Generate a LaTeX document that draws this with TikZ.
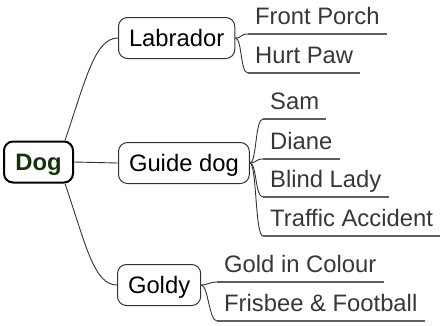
\documentclass[tikz,border=0pt]{standalone}
\usepackage{fontspec}
\setmainfont{Liberation Sans}
\definecolor{dogtxt}{RGB}{18,52,8}
\definecolor{leaftxt}{RGB}{55,55,55}
\definecolor{uline}{RGB}{95,95,95}
\definecolor{conn}{RGB}{50,50,50}
\begin{document}
\begin{tikzpicture}[x=1pt,y=-1pt,
  txt/.style={font=\fontsize{23.8}{28}\selectfont, text height=17pt, text depth=0pt},
  rootbox/.style={txt, font=\fontsize{23.8}{28}\selectfont\bfseries, text=dogtxt, draw=black, line width=2pt, rounded corners=9pt, minimum width=69pt, minimum height=41pt, inner sep=0pt},
  midbox/.style={txt, text=black, draw=conn, line width=1pt, rounded corners=9pt, minimum height=41pt, inner xsep=10.5pt, inner ysep=0pt, anchor=west},
  leaf/.style={txt, text=leaftxt, inner xsep=7pt, inner ysep=9pt, anchor=south west},
  conline/.style={draw=conn, line width=0.9pt},
  ulinestyle/.style={draw=uline, line width=1.2pt}
]
\useasboundingbox (0,0) rectangle (440,325);
\node[rootbox] (dog) at (38.5,162) {Dog};
\node[midbox] (lab) at (118,38) {Labrador};
\node[midbox] (guide) at (118,163) {Guide dog};
\node[midbox] (goldy) at (117,285) {Goldy};

\node[leaf] (fp) at (248,34) {Front Porch};
\node[leaf] (hp) at (248,73) {Hurt Paw};
\node[leaf] (sam) at (263,119) {Sam};
\node[leaf] (diane) at (263,159) {Diane};
\node[leaf] (blind) at (263,197) {Blind Lady};
\node[leaf] (traffic) at (263,236) {Traffic Accident};
\node[leaf] (gold) at (217,282) {Gold in Colour};
\node[leaf] (fris) at (217,321) {Frisbee \& Football};

\foreach \n in {fp,hp,sam,diane,blind,traffic,gold,fris}
  \draw[ulinestyle] (\n.south west) -- (\n.south east);

\draw[conline] (dog.east) -- (guide.west);
\draw[conline] ([xshift=-9pt]dog.north east) .. controls +(21,-62) and +(-23,0) .. (lab.west);
\draw[conline] ([xshift=-9pt]dog.south east) .. controls +(21,62) and +(-23,0) .. (goldy.west);

\foreach \n in {fp,hp}
  \draw[conline] (lab.east) .. controls +(7,0) and +(-8,0) .. (\n.south west);
\foreach \n in {sam,diane,blind,traffic}
  \draw[conline] (guide.east) .. controls +(7,0) and +(-8,0) .. (\n.south west);
\foreach \n in {gold,fris}
  \draw[conline] (goldy.east) .. controls +(7,0) and +(-8,0) .. (\n.south west);
\end{tikzpicture}
\end{document}
